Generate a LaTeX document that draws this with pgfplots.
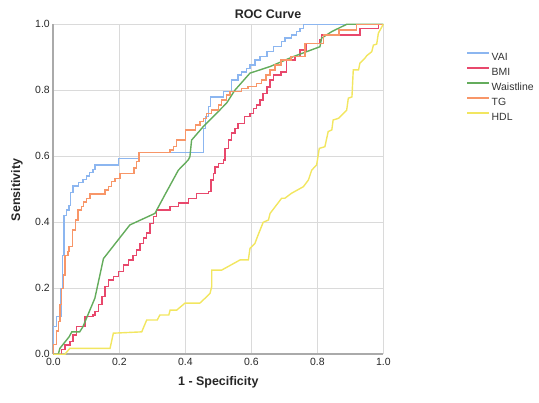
\documentclass[border=0pt]{standalone}
\usepackage{pgfplots}
\pgfplotsset{compat=1.18}
\usepackage{fontspec}
\setmainfont{Liberation Sans}
\definecolor{cVAI}{RGB}{140,182,240}
\definecolor{cBMI}{RGB}{232,72,108}
\definecolor{cWST}{RGB}{100,172,92}
\definecolor{cTG}{RGB}{248,150,104}
\definecolor{cHDL}{RGB}{242,230,96}
\definecolor{gridc}{RGB}{218,218,218}
\definecolor{axc}{RGB}{170,170,170}
\begin{document}
\begin{tikzpicture}
\path[use as bounding box] (0,0) rectangle (539bp,403bp);
\begin{axis}[
  at={(53.3bp,48.7bp)}, anchor=south west,
  scale only axis, width=330bp, height=330bp,
  xmin=0, xmax=1, ymin=0, ymax=1,
  xtick={0,0.2,0.4,0.6,0.8,1}, xticklabels={0.0,0.2,0.4,0.6,0.8,1.0},
  ytick={0,0.2,0.4,0.6,0.8,1}, yticklabels={0.0,0.2,0.4,0.6,0.8,1.0},
  axis lines*=left,
  axis line style={draw=axc, line width=1.6bp},
  grid=major,
  major grid style={draw=gridc, line width=1.3bp},
  major tick length=0pt,
  tick label style={font=\fontsize{10.5}{12}\selectfont, text=black!85},
  /pgf/number format/assume math mode=true,
  clip=false,
  legend cell align=left,
  legend style={at={(1.2527,0.9245)}, anchor=north west, draw=none, fill=none,
    inner sep=0pt, outer sep=0pt, row sep=0pt,
    font=\fontsize{10.5}{12}\selectfont,
    nodes={inner sep=0pt, text height=11bp, text depth=4bp, text=black!80}},
  legend image code/.code={\draw[#1, line width=1.5bp] (0bp,3.5bp) -- (21.6bp,3.5bp); \path (23.5bp,3.5bp);},
  every axis plot/.append style={line width=1.4bp},
]
% VAI
\addplot[cVAI, const plot mark left] coordinates {
(0,0)(0,0.084)(0.01,0.114)(0.023,0.2)(0.028,0.3)(0.033,0.42)(0.04,0.437)(0.048,0.45)
(0.053,0.49)(0.06,0.51)(0.076,0.52)(0.09,0.53)(0.10,0.54)(0.11,0.55)(0.12,0.56)
(0.126,0.574)(0.197,0.594)(0.26,0.611)(0.4545,0.685)(0.462,0.72)(0.47,0.75)(0.477,0.78)
(0.515,0.796)(0.54,0.831)(0.56,0.846)(0.571,0.856)(0.586,0.866)(0.596,0.877)(0.611,0.892)
(0.626,0.902)(0.647,0.917)(0.667,0.932)(0.692,0.947)(0.702,0.958)(0.722,0.968)(0.737,0.978)
(0.747,0.988)(0.758,1.0)(1,1)};
\addlegendentry{VAI}
% BMI
\addplot[cBMI, const plot mark left] coordinates {
(0,0)(0.02,0)(0.025,0.015)(0.035,0.028)(0.05,0.038)(0.06,0.058)(0.07,0.084)(0.096,0.114)
(0.12,0.119)(0.126,0.13)(0.137,0.15)(0.147,0.175)(0.157,0.205)(0.167,0.225)(0.182,0.235)
(0.197,0.25)(0.212,0.27)(0.227,0.286)(0.242,0.30)(0.253,0.316)(0.263,0.336)(0.273,0.352)
(0.283,0.367)(0.293,0.397)(0.303,0.417)(0.313,0.437)(0.354,0.447)(0.38,0.458)(0.409,0.473)
(0.434,0.488)(0.47,0.493)(0.478,0.528)(0.485,0.548)(0.49,0.568)(0.5,0.579)(0.515,0.589)
(0.52,0.624)(0.53,0.649)(0.54,0.67)(0.55,0.685)(0.56,0.70)(0.58,0.72)(0.596,0.73)
(0.606,0.745)(0.616,0.755)(0.626,0.77)(0.636,0.79)(0.647,0.81)(0.657,0.831)(0.667,0.846)
(0.69,0.856)(0.707,0.892)(0.732,0.902)(0.747,0.922)(0.768,0.942)(0.808,0.952)(0.813,0.968)
(0.929,0.988)(0.985,1.0)(1,1)};
\addlegendentry{BMI}
% Waistline
\addplot[cWST] coordinates {
(0,0)(0.015,0)(0.02,0.018)(0.048,0.053)(0.056,0.068)(0.08,0.068)(0.09,0.084)(0.126,0.17)
(0.152,0.29)(0.232,0.392)(0.308,0.427)(0.338,0.483)(0.379,0.558)(0.409,0.589)(0.414,0.599)
(0.419,0.649)(0.4545,0.69)(0.525,0.761)(0.55,0.8)(0.596,0.852)(0.657,0.872)(0.727,0.902)
(0.808,0.932)(0.813,0.958)(0.844,0.978)(0.889,1.0)(1,1)};
\addlegendentry{Waistline}
% TG
\addplot[cTG, const plot mark left] coordinates {
(0,0)(0,0.03)(0.01,0.07)(0.015,0.1)(0.02,0.15)(0.025,0.2)(0.03,0.24)(0.035,0.30)
(0.045,0.311)(0.048,0.326)(0.058,0.377)(0.068,0.407)(0.075,0.437)(0.085,0.447)(0.091,0.462)
(0.101,0.472)(0.111,0.486)(0.157,0.498)(0.167,0.508)(0.177,0.523)(0.187,0.533)(0.202,0.548)
(0.245,0.564)(0.253,0.584)(0.26,0.611)(0.354,0.619)(0.364,0.629)(0.374,0.649)(0.40,0.68)
(0.43,0.695)(0.444,0.705)(0.455,0.715)(0.465,0.73)(0.48,0.74)(0.50,0.755)(0.51,0.77)
(0.525,0.786)(0.535,0.796)(0.571,0.806)(0.59,0.811)(0.616,0.821)(0.63,0.831)(0.645,0.846)
(0.657,0.862)(0.672,0.877)(0.69,0.892)(0.72,0.902)(0.763,0.942)(0.818,0.968)(0.866,0.983)
(0.919,1.0)(1,1)};
\addlegendentry{TG}
% HDL
\addplot[cHDL] coordinates {
(0,0)(0.035,0)(0.05,0.018)(0.172,0.018)(0.182,0.064)(0.268,0.068)(0.283,0.104)(0.315,0.104)
(0.323,0.119)(0.35,0.119)(0.354,0.134)(0.374,0.134)(0.399,0.155)(0.444,0.155)(0.46,0.17)
(0.475,0.185)(0.48,0.205)(0.48,0.255)(0.51,0.255)(0.566,0.286)(0.591,0.286)(0.596,0.321)
(0.611,0.336)(0.62,0.36)(0.636,0.40)(0.652,0.407)(0.657,0.427)(0.692,0.473)(0.702,0.473)
(0.722,0.488)(0.758,0.508)(0.773,0.528)(0.783,0.558)(0.798,0.574)(0.806,0.624)(0.823,0.629)
(0.833,0.675)(0.844,0.68)(0.848,0.71)(0.864,0.715)(0.889,0.74)(0.894,0.776)(0.905,0.78)
(0.909,0.862)(0.925,0.862)(0.929,0.882)(0.944,0.897)(0.95,0.905)(0.965,0.917)(0.97,0.937)
(0.98,0.94)(0.985,0.973)(1.0,1.0)};
\addlegendentry{HDL}
\end{axis}
\node[font=\bfseries\fontsize{12.5}{14}\selectfont, text=black!85] at (268bp,389bp) {ROC Curve};
\node[font=\bfseries\fontsize{12.5}{14}\selectfont, text=black!85] at (218.3bp,21bp) {1 - Specificity};
\node[font=\bfseries\fontsize{12.5}{14}\selectfont, text=black!85, rotate=90] at (17bp,213bp) {Sensitivity};
\end{tikzpicture}
\end{document}
